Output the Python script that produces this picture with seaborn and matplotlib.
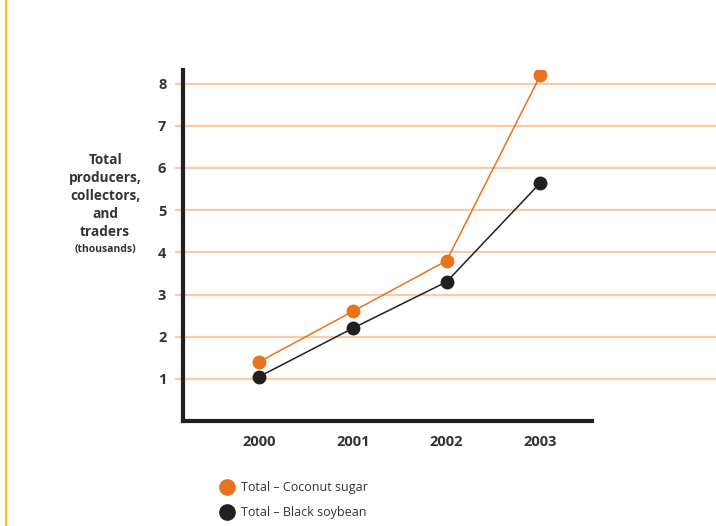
import pandas as pd
import numpy as np
import matplotlib.pyplot as plt
import seaborn as sns
from matplotlib.lines import Line2D

years = [2000, 2001, 2002, 2003]
coconut_sugar = [1.4, 2.6, 3.8, 8.2]
black_soybean = [1.05, 2.2, 3.3, 5.65]
series_names = ['Total \u2013 Coconut sugar', 'Total \u2013 Black soybean']
y_ticks = [1, 2, 3, 4, 5, 6, 7, 8]

orange = '#E8731F'
black = '#231F20'
grid_col = '#FBCBA5'

df = pd.DataFrame({
    'year': years * 2,
    'value': coconut_sugar + black_soybean,
    'series': [series_names[0]] * 4 + [series_names[1]] * 4,
})

sns.set_style('white')
plt.rcParams['font.family'] = ['Open Sans', 'DejaVu Sans']

fig = plt.figure(figsize=(7.16, 5.26), dpi=100)
ax = fig.add_axes([0.2556, 0.1996, 0.5712, 0.667])

# gridlines run past the axes to the right edge
for t in y_ticks:
    ax.axhline(t, xmin=-0.017, xmax=1.31, color=grid_col, lw=1.6,
               clip_on=False, zorder=0)

sns.lineplot(data=df, x='year', y='value', hue='series',
             palette=[orange, black], marker='o', markersize=10,
             markeredgewidth=0, linewidth=1.1, legend=False, ax=ax,
             zorder=3)

ax.set_xlim(1999.19, 2003.55)
ax.set_ylim(0, 8.32)
ax.set_xticks(years)
ax.set_xticklabels([str(y) for y in years], fontsize=10.5, fontweight='bold',
                   color='#333333')
ax.set_yticks(y_ticks)
ax.set_yticklabels([str(t) for t in y_ticks], fontsize=10.5, fontweight='bold',
                   color='#333333')
ax.tick_params(axis='both', length=0, pad=12)
ax.tick_params(axis='x', pad=10)
ax.set_xlabel('')
ax.set_ylabel('')

for s in ['top', 'right']:
    ax.spines[s].set_visible(False)
for s in ['left', 'bottom']:
    ax.spines[s].set_color(black)
    ax.spines[s].set_linewidth(3)

fig.text(0.147, 0.710, 'Total\nproducers,\ncollectors,\nand\ntraders',
         ha='center', va='top', fontsize=9.8, fontweight='bold',
         color='#333333', linespacing=1.38)
fig.text(0.147, 0.537, '(thousands)', ha='center', va='top', fontsize=7.5,
         fontweight='bold', color='#333333')

# yellow border on the left
fig.add_artist(Line2D([0.009, 0.009], [0, 1], color='#FFC20E', lw=1.5,
                      transform=fig.transFigure))

handles = [Line2D([], [], marker='o', color=c, lw=0, markersize=11)
           for c in [orange, black]]
fig.legend(handles, series_names, loc='upper left',
           bbox_to_anchor=(0.3, 0.095), frameon=False, fontsize=9,
           handletextpad=0.5, labelspacing=0.95, borderaxespad=0,
           handlelength=1.2, labelcolor='#333333')

fig.savefig('out.png', dpi=100)
